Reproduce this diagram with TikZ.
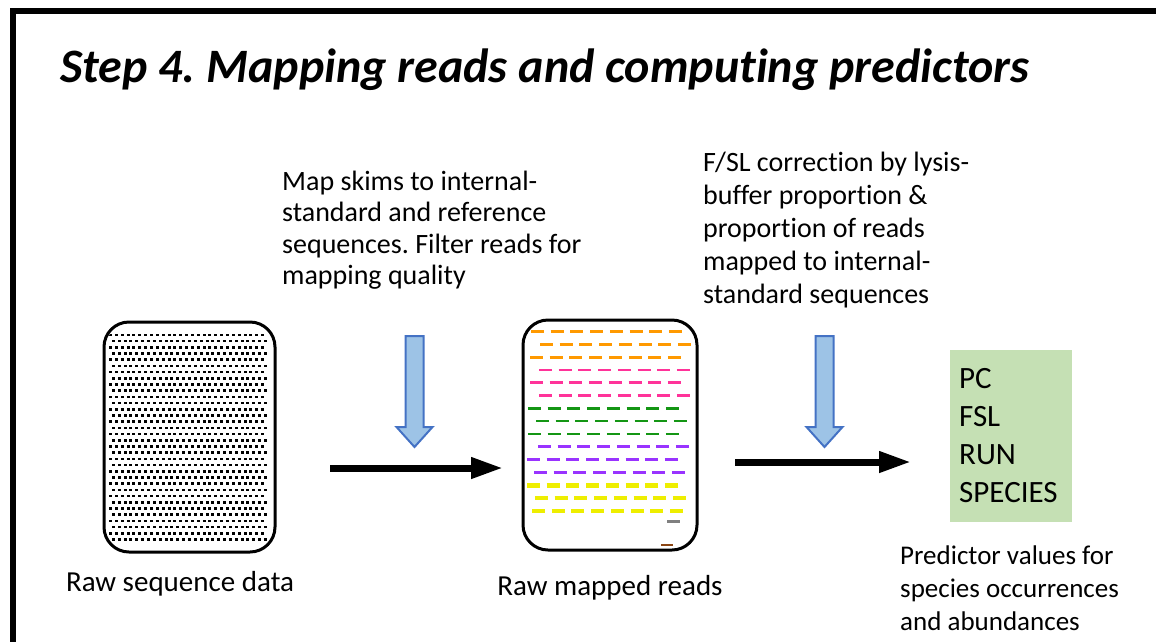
\documentclass[tikz,border=0pt]{standalone}
\usepackage{fontspec}
\setmainfont{Carlito}[Ligatures=NoCommon]
\frenchspacing
\usetikzlibrary{arrows.meta}
\definecolor{rorange}{RGB}{255,153,0}
\definecolor{rpink}{RGB}{255,51,153}
\definecolor{rgreen}{RGB}{20,150,20}
\definecolor{rpurple}{RGB}{153,51,255}
\definecolor{ryellow}{RGB}{238,238,0}
\definecolor{rgray}{RGB}{128,128,128}
\definecolor{rbrown}{RGB}{139,69,19}
\definecolor{bfill}{RGB}{157,195,230}
\definecolor{bline}{RGB}{68,114,196}
\definecolor{gfill}{RGB}{197,224,180}
\begin{document}
\begin{tikzpicture}[x=1pt,y=-1pt,
  roundbox/.style={draw=black, line width=3pt, rounded corners=25pt, inner sep=0pt},
  body/.style={font=\fontsize{28}{32}\selectfont, inner sep=0pt, align=left},
  lbl/.style={font=\fontsize{29}{33}\selectfont, inner sep=0pt},
  bigarrow/.style={line width=7pt, -{Triangle[length=32pt,width=20pt]}},
  bluearrow/.style={fill=bfill, draw=bline, line width=2pt, line join=miter},
  readline/.style={line width=2.8pt, dash pattern=on 13pt off 6.7pt}]
\useasboundingbox (0,0) rectangle (1156,641);
% frame
\draw[line width=6pt, line join=miter] (13,645) -- (13,11) -- (1160,11);
% title
\node[anchor=base west, inner sep=0pt, font=\fontsize{48}{54}\selectfont\bfseries\itshape] (title) at (60,82) {Step 4. Mapping reads and computing predictors};
% raw sequence box
\node[roundbox, minimum width=171pt, minimum height=230pt] (raw) at (189.5,437) {};
\begin{scope}
  \clip[rounded corners=23pt] (106,324) rectangle (273,550);
  \foreach \r in {0,...,33} {
    \foreach \c in {0,...,26} {
      \fill ({109+\c*5.85+mod(\r,2)*2.9},{333.5+\r*6.2}) rectangle ++(3,2.6);
    }
  }
\end{scope}
\node[lbl, anchor=base] (rawlbl) at (180,591) {Raw sequence data};
% mapped reads box
\node[roundbox, minimum width=174pt, minimum height=230pt] (mapped) at (610,435) {};
\foreach \yy/\cc/\xx/\ww in {331.7/rorange/531/2.8, 344.3/rorange/540/2.8, 357.3/rorange/530/2.8,
  370/rpink/539/2.8, 382.7/rpink/530/2.8, 395.7/rpink/539/2.8,
  408.3/rgreen/528/2.8, 421/rgreen/536/2.8, 434/rgreen/528/2.8,
  446.7/rpurple/538/2.8, 459.7/rpurple/527/2.8, 472.3/rpurple/534/2.8,
  485.3/ryellow/527/4.8, 498/ryellow/535/4.8, 511/ryellow/532/4.8} {
  \draw[readline, draw=\cc, line width=\ww pt] (\xx,\yy) -- ++(151,0);
}
\draw[rgray, line width=2.8pt] (667,521.7) -- (680,521.7);
\draw[rbrown, line width=2.8pt] (661,545) -- (673,545);
\node[lbl, anchor=base] (maplbl) at (610,595) {Raw mapped reads};
% step texts
\node[body, anchor=base west, font=\fontsize{28}{31.5}\selectfont] (maptext) at (282,284.5) {Map skims to internal-\\standard and reference\\sequences. Filter reads for\\mapping quality};
\node[body, anchor=base west, font=\fontsize{28}{32.8}\selectfont] (fsltext) at (703,303) {F/SL correction by lysis-\\buffer proportion \&\\proportion of reads\\mapped to internal-\\standard sequences};
% blue arrows
\coordinate (b1) at (414.5,336);
\coordinate (b2) at (824.5,336);
\foreach \b in {b1,b2} {
  \draw[bluearrow] ([xshift=-9pt]\b) -- ([xshift=9pt]\b) -- ([xshift=9pt,yshift=-91pt]\b) -- ([xshift=18pt,yshift=-91pt]\b) -- ([yshift=-111pt]\b) -- ([xshift=-18pt,yshift=-91pt]\b) -- ([xshift=-9pt,yshift=-91pt]\b) -- cycle;
}
% black arrows
\coordinate (a1s) at (330,468);
\coordinate (a1e) at (503,468);
\coordinate (a2s) at (735,462);
\coordinate (a2e) at (911,462);
\draw[bigarrow] (a1s) -- (a1e);
\draw[bigarrow] (a2s) -- (a2e);
% predictors
\node[fill=gfill, minimum width=122pt, minimum height=172pt, inner sep=0pt] (pred) at (1011,436) {};
\node[anchor=base west, inner sep=0pt, align=left, font=\fontsize{31}{38.2}\selectfont] (predtext) at (959,502.6) {PC\\FSL\\RUN\\SPECIES};
\node[anchor=base west, inner sep=0pt, align=left, font=\fontsize{27}{33}\selectfont] (predlbl) at (900,630) {Predictor values for\\species occurrences\\and abundances};
\end{tikzpicture}
\end{document}
